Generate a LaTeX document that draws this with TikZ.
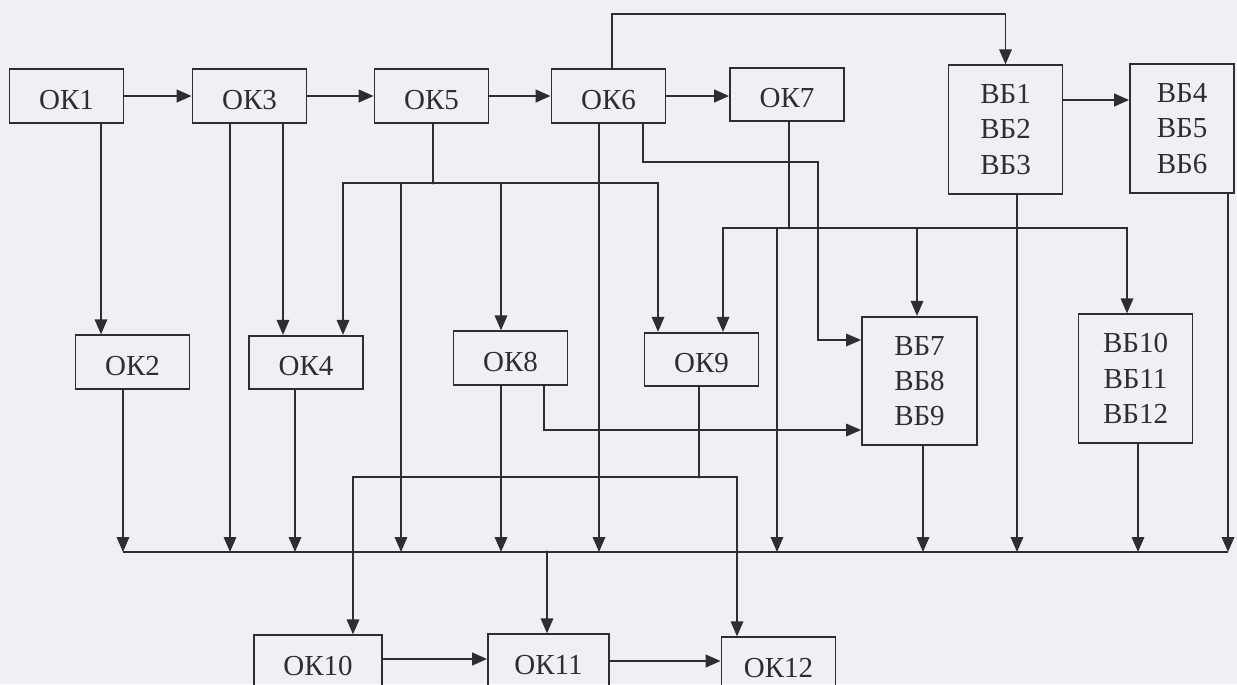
\documentclass[tikz,border=0pt]{standalone}
\usepackage{fontspec}
\setmainfont{Liberation Serif}
\usetikzlibrary{arrows.meta, positioning}
\definecolor{paper}{RGB}{239,240,245}
\definecolor{ink}{RGB}{45,45,50}

\begin{document}
\begin{tikzpicture}[
    x=0.02cm, y=-0.02cm,
    box/.style={draw=ink, line width=1pt, minimum width=2.28cm, minimum height=1.07cm, inner sep=0pt, text=ink, font=\fontsize{16.5}{20}\selectfont},
    okbox/.style={box, text height=15pt, text depth=0pt},
    tallbox/.style={box, minimum height=2.57cm, align=center},
    arrow/.style={-{Triangle[length=3mm, width=2.5mm]}, line width=1pt, draw=ink},
    mainarrow/.style={arrow, line width=1.5pt},
    wire/.style={line width=1pt, draw=ink}
]
    \useasboundingbox (0,0) rectangle (1237,684);
    \clip (0,0) rectangle (1237,684);
    \fill[paper] (0,0) rectangle (1237,684);

    \node[okbox] (ok1) at (66.5,96) {ОК1};
    \node[okbox] (ok3) at (249.5,96) {ОК3};
    \node[okbox] (ok5) at (431.5,96) {ОК5};
    \node[okbox] (ok6) at (608.5,96) {ОК6};
    \node[okbox] (ok7) at (787,94.5) {ОК7};
    \node[tallbox] (vb1) at (1005.5,129.5) {ВБ1\\ВБ2\\ВБ3};
    \node[tallbox, minimum width=2.08cm] (vb4) at (1182,128.5) {ВБ4\\ВБ5\\ВБ6};

    \node[okbox] (ok2) at (132.5,362) {ОК2};
    \node[okbox] (ok4) at (306,362.5) {ОК4};
    \node[okbox] (ok8) at (510.5,358) {ОК8};
    \node[okbox] (ok9) at (701.5,359.5) {ОК9};
    \node[tallbox, minimum width=2.3cm] (vb7) at (919.5,381) {ВБ7\\ВБ8\\ВБ9};
    \node[tallbox] (vb10) at (1135.5,378.5) {ВБ10\\ВБ11\\ВБ12};

    \node[okbox, minimum width=2.56cm] (ok10) at (318,662) {ОК10};
    \node[okbox, minimum width=2.42cm] (ok11) at (548.5,661) {ОК11};
    \node[okbox] (ok12) at (778.5,664) {ОК12};

    \coordinate (bus) at (0,552);
    \coordinate (j5) at (433,183);
    \coordinate (j7) at (789,228);
    \coordinate (j9) at (699,477);

    \draw[mainarrow] (ok1.east) -- (ok1.east -| ok3.west);
    \draw[mainarrow] (ok3.east) -- (ok3.east -| ok5.west);
    \draw[mainarrow] (ok5.east) -- (ok5.east -| ok6.west);
    \draw[mainarrow] (ok6.east) -- (ok6.east -| ok7.west);
    \draw[mainarrow] (vb1.east |- 0,100) -- (vb4.west |- 0,100);
    \draw[arrow] (ok6.north -| 612,0) |- (vb1.north |- 0,14) -- (vb1.north);

    \draw[arrow] (ok1.south -| 101,0) -- (ok2.north -| 101,0);
    \draw[arrow] (ok3.south -| 230,0) -- (bus -| 230,0);
    \draw[arrow] (ok3.south -| 283,0) -- (ok4.north -| 283,0);

    \draw[wire] (ok5.south -| j5) -- (j5);
    \draw[arrow] (j5) -| (ok4.north -| 343,0);
    \draw[arrow] (j5) -| (ok9.north -| 658,0);
    \draw[arrow] (j5 -| 401,0) -- (bus -| 401,0);
    \draw[arrow] (j5 -| 501,0) -- (ok8.north -| 501,0);

    \draw[arrow] (ok6.south -| 599,0) -- (bus -| 599,0);
    \draw[arrow] (ok6.south -| 643,0) |- (818,162) |- (vb7.west |- 0,340);

    \draw[wire] (ok7.south -| j7) -- (j7);
    \draw[arrow] (j7) -| (ok9.north -| 723,0);
    \draw[arrow] (j7) -| (vb10.north -| 1127,0);
    \draw[arrow] (j7 -| 777,0) -- (bus -| 777,0);
    \draw[arrow] (j7 -| 917,0) -- (vb7.north -| 917,0);

    \draw[arrow] (ok8.south -| 501,0) -- (bus -| 501,0);
    \draw[arrow] (ok8.south -| 544,0) |- (vb7.west |- 0,430);

    \draw[wire] (ok9.south -| j9) -- (j9);
    \draw[arrow] (j9) -| (ok10.north -| 353,0);
    \draw[arrow] (j9) -| (ok12.north -| 737,0);

    \draw[arrow] (ok2.south -| 123,0) -- (bus -| 123,0);
    \draw[arrow] (ok4.south -| 295,0) -- (bus -| 295,0);
    \draw[arrow] (vb7.south -| 923,0) -- (bus -| 923,0);
    \draw[arrow] (vb1.south -| 1017,0) -- (bus -| 1017,0);
    \draw[arrow] (vb10.south -| 1138,0) -- (bus -| 1138,0);
    \draw[arrow] (vb4.south -| 1228,0) -- (bus -| 1228,0);
    \draw[wire] (bus -| 123,0) -- (bus -| 1228,0);
    \draw[arrow] (bus -| 547,0) -- (ok11.north -| 547,0);

    \draw[mainarrow] (ok10.east |- 0,659) -- (ok11.west |- 0,659);
    \draw[mainarrow] (ok11.east |- 0,661) -- (ok12.west |- 0,661);

    \fill[ink] (j5) circle (1.6) (j7) circle (1.6) (j9) circle (1.6) (bus -| 547,0) circle (1.6);
\end{tikzpicture}
\end{document}
